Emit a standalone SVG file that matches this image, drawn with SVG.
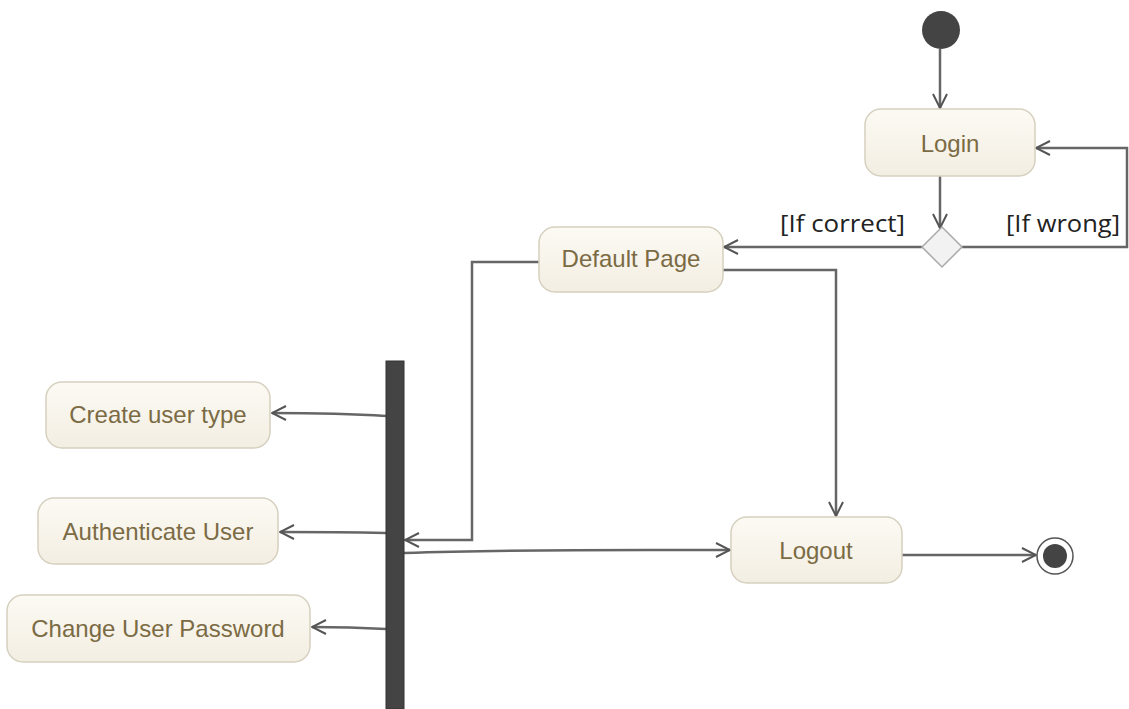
<svg xmlns="http://www.w3.org/2000/svg" width="1129" height="709" viewBox="0 0 1129 709">
<defs>
<linearGradient id="g" x1="0" y1="0" x2="0" y2="1">
<stop offset="0" stop-color="#fcfaf4"/>
<stop offset="1" stop-color="#f3eee2"/>
</linearGradient>
<marker id="arr" viewBox="0 0 16 16" refX="15" refY="8" markerWidth="16" markerHeight="16" markerUnits="userSpaceOnUse" orient="auto">
<path d="M1,1 L15,8 L1,15" fill="none" stroke="#555" stroke-width="2"/>
</marker>
<style>
.box{fill:url(#g);stroke:#d6d0bf;stroke-width:1.5}
.t{font-family:"Liberation Sans",Arial,sans-serif;font-size:24px;fill:#7b6b44;text-anchor:middle}
.g{font-family:"Open Sans","DejaVu Sans",sans-serif;font-size:23px;fill:#222}
.c{fill:none;stroke:#666;stroke-width:2.5}
</style>
</defs>
<rect width="1129" height="709" fill="#fff"/>
<g id="connectors">
<path class="c" d="M940,49 L940,108" marker-end="url(#arr)"/>
<path class="c" d="M940,176 L940,228" marker-end="url(#arr)"/>
<path class="c" d="M962,247 L1127,247 L1127,148 L1036,148" marker-end="url(#arr)"/>
<path class="c" d="M922,247 L724,247" marker-end="url(#arr)"/>
<path class="c" d="M540,262 L472,262 L472,540 L405,540" marker-end="url(#arr)"/>
<path class="c" d="M722,270 L836,270 L836,516" marker-end="url(#arr)"/>
<path class="c" d="M386,416 C340,413 310,413 272,413" marker-end="url(#arr)"/>
<path class="c" d="M386,533 C340,532 310,532 280,532" marker-end="url(#arr)"/>
<path class="c" d="M386,629 C350,627 330,627 312,627" marker-end="url(#arr)"/>
<path class="c" d="M404,553 C520,549 620,550 730,550" marker-end="url(#arr)"/>
<path class="c" d="M902,555 L1036,555" marker-end="url(#arr)"/>
<text class="g" x="780" y="232" textLength="125" lengthAdjust="spacingAndGlyphs">[If correct]</text>
<text class="g" x="1006" y="232" textLength="114" lengthAdjust="spacingAndGlyphs">[If wrong]</text>
</g>
<g id="start"><circle cx="941" cy="30" r="19" fill="#444"/></g>
<g id="login"><rect class="box" x="865" y="109" width="170" height="67" rx="16"/><text class="t" x="950" y="152">Login</text></g>
<g id="decision"><path d="M942,227 L962,247 L942,267 L922,247 Z" fill="#f2f2f2" stroke="#aaa" stroke-width="1.5"/></g>
<g id="default"><rect class="box" x="539" y="227" width="184" height="65" rx="16"/><text class="t" x="631" y="267">Default Page</text></g>
<g id="fork"><rect x="386" y="361" width="18" height="348" fill="#444" stroke="#333" stroke-width="1"/></g>
<g id="create"><rect class="box" x="46" y="382" width="224" height="66" rx="16"/><text class="t" x="158" y="423">Create user type</text></g>
<g id="auth"><rect class="box" x="38" y="498" width="240" height="66" rx="16"/><text class="t" x="158" y="540">Authenticate User</text></g>
<g id="change"><rect class="box" x="7" y="595" width="303" height="67" rx="16"/><text class="t" x="158" y="637">Change User Password</text></g>
<g id="logout"><rect class="box" x="731" y="517" width="171" height="66" rx="16"/><text class="t" x="816" y="559">Logout</text></g>
<g id="end"><circle cx="1055" cy="556" r="18" fill="#fff" stroke="#555" stroke-width="1.5"/><circle cx="1055" cy="556" r="12" fill="#444"/></g>
</svg>
